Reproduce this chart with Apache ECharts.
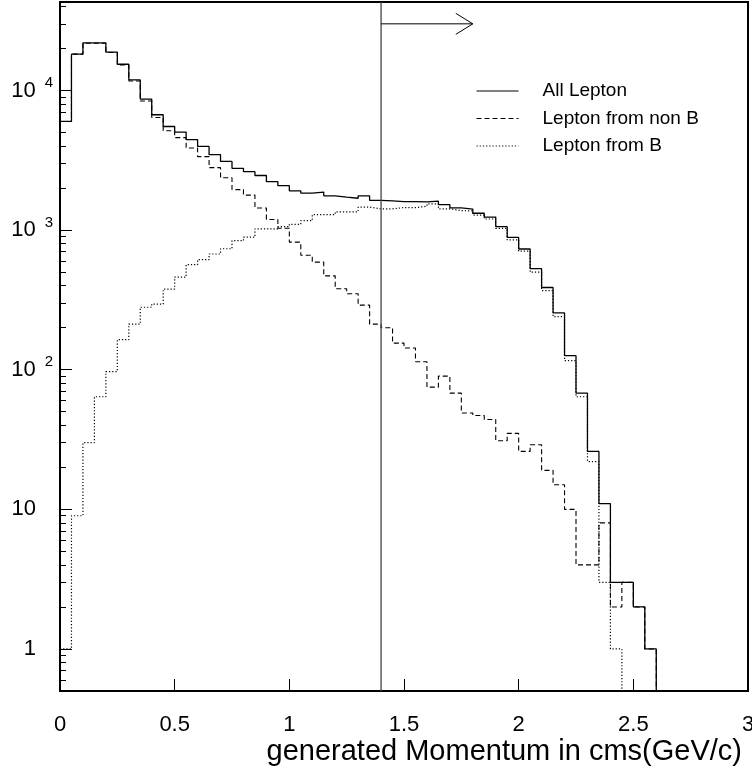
<!DOCTYPE html>
<html>
<head>
<meta charset="utf-8">
<script src="https://cdn.jsdelivr.net/npm/echarts@6/dist/echarts.min.js"></script>
<style>
html,body{margin:0;padding:0;background:#fff;}
#chart{width:752px;height:770px;}
</style>
</head>
<body>
<div id="chart"></div>
<script>
// ---- data ----
const binEdges = [0,0.05,0.1,0.15,0.2,0.25,0.3,0.35,0.4,0.45,0.5,0.55,0.6,0.65,0.7,0.75,0.8,0.85,0.9,0.95,
  1,1.05,1.1,1.15,1.2,1.25,1.3,1.35,1.4,1.45,1.5,1.55,1.6,1.65,1.7,1.75,1.8,1.85,1.9,1.95,
  2,2.05,2.1,2.15,2.2,2.25,2.3,2.35,2.4,2.45,2.5,2.55,2.6,2.65,2.7,2.75,2.8,2.85,2.9,2.95,3];

const allLepton = [6000,18200,21900,21900,18800,15400,11900,8680,6700,5520,
  5030,4440,3970,3470,3100,2770,2620,2460,2220,2080,
  1910,1840,1870,1760,1720,1690,1760,1630,1620,1600,
  1600,1590,1610,1520,1440,1415,1320,1240,1060,886,
  732,529,388,255,126,68,26,11,3,3,
  2,1,0,0,0,0,0,0,0,0];

const leptonNonB = [6000,18200,21800,21800,18700,15200,11700,8400,6400,5150,
  4590,3870,3360,2800,2370,1950,1780,1440,1190,1030,
  820,660,590,470,380,350,290,212,200,155,
  143,114,75,90,68,49,47,44,31,35,
  26,29,19,15,10,4,4,8,2,3,
  2,1,0,0,0,0,0,0,0,0];

const leptonB = [1,9,30,64,97,164,212,280,295,378,
  461,565,614,674,735,839,889,1020,1020,1060,
  1100,1170,1290,1290,1350,1350,1460,1420,1420,1450,
  1450,1480,1540,1420,1380,1370,1280,1200,1030,851,
  706,500,369,240,116,64,22,3,1,0,
  0,0,0,0,0,0,0,0,0,0];

const seriesNames = ['All Lepton', 'Lepton from non B', 'Lepton from B'];

const xTickValues = [0, 0.5, 1, 1.5, 2, 2.5, 3];
const xTickLabels = ['0', '0.5', '1', '1.5', '2', '2.5', '3'];

const yTickValues = [1, 10, 100, 1000, 10000];
const yTickBase = ['1', '10', '10', '10', '10'];
const yTickExp = ['', '', '2', '3', '4'];
const yMinorTicks = [0.6,0.7,0.8,0.9,
  2,3,4,5,6,7,8,9,
  20,30,40,50,60,70,80,90,
  200,300,400,500,600,700,800,900,
  2000,3000,4000,5000,6000,7000,8000,9000,
  20000,30000,40000];

const cutMomentum = 1.4;     // vertical cut line
const arrowEnd = 1.8;        // arrow head position
const arrowLevel = 30000;    // arrow height

const xTitle = 'generated Momentum in cms(GeV/c)';

// ---- chart ----
const X_MIN = 0, X_MAX = 3, Y_MIN = 0.5, Y_MAX = 43000;
const FONT = "'Liberation Sans', Arial, Helvetica, sans-serif";

function histData(values) {
  const d = [];
  for (let i = 0; i < values.length; i++) {
    d.push([binEdges[i], Math.max(values[i], Y_MIN)]);
  }
  d.push([binEdges[values.length], Math.max(values[values.length - 1], Y_MIN)]);
  return d;
}

function tickIndex(v) {
  for (let i = 0; i < yTickValues.length; i++) {
    if (Math.abs(Math.log10(v) - Math.log10(yTickValues[i])) < 1e-6) return i;
  }
  return -1;
}

const chart = echarts.init(document.getElementById('chart'), null, {renderer: 'canvas'});

const lineStyles = [
  {color: '#000', width: 1.3, type: 'solid'},
  {color: '#000', width: 1.1, type: [5, 3]},
  {color: '#000', width: 1.2, type: [1.2, 2]}
];
const values = [allLepton, leptonNonB, leptonB];

const series = values.map((v, i) => ({
  name: seriesNames[i],
  type: 'line',
  step: 'end',
  symbol: 'none',
  showSymbol: false,
  data: histData(v),
  lineStyle: lineStyles[i],
  itemStyle: {color: '#000'},
  clip: true,
  silent: true,
  z: 3 - i
}));

series.push({
  type: 'custom',
  silent: true,
  data: [[cutMomentum, arrowEnd, arrowLevel]],
  encode: {x: 0, y: 2},
  z: 5,
  renderItem: function (params, api) {
    const xc = api.value(0), xe = api.value(1), ya = api.value(2);
    const top = api.coord([xc, Y_MAX]);
    const bot = api.coord([xc, Y_MIN]);
    const a0 = api.coord([xc, ya]);
    const a1 = api.coord([xe, ya]);
    const st = {stroke: '#000', lineWidth: 1, fill: null};
    return {
      type: 'group',
      children: [
        {type: 'line', shape: {x1: top[0], y1: top[1], x2: bot[0], y2: bot[1]}, style: {stroke: '#444', lineWidth: 1.3, fill: null}},
        {type: 'line', shape: {x1: a0[0], y1: a0[1], x2: a1[0], y2: a1[1]}, style: st},
        {type: 'polyline', shape: {points: [[a1[0] - 17, a1[1] - 10.5], [a1[0], a1[1]], [a1[0] - 17, a1[1] + 10.5]]}, style: st}
      ]
    };
  }
});

const option = {
  animation: false,
  backgroundColor: '#fff',
  grid: {
    left: 60, top: 2, width: 688, height: 689,
    outerBoundsMode: 'none',
    containLabel: false,
    show: true, borderColor: '#000', borderWidth: 2, backgroundColor: 'transparent'
  },
  legend: {
    data: seriesNames,
    orient: 'vertical',
    left: 476,
    top: 81,
    padding: 0,
    itemWidth: 42,
    itemHeight: 20,
    itemGap: 7.5,
    selectedMode: false,
    itemStyle: {opacity: 0},
    lineStyle: {width: 1},
    textStyle: {fontSize: 19, lineHeight: 20, fontFamily: FONT, color: '#000', padding: [0, 0, 0, 19]}
  },
  xAxis: {
    type: 'value',
    min: X_MIN, max: X_MAX, interval: 0.5,
    name: xTitle,
    nameLocation: 'end',
    nameGap: -6,
    nameTextStyle: {fontSize: 29, fontFamily: FONT, color: '#000', align: 'right', verticalAlign: 'top', padding: [46, 0, 0, 0]},
    axisLine: {show: false},
    splitLine: {show: false},
    axisTick: {show: true, inside: true, length: 12, lineStyle: {color: '#000', width: 1}},
    axisLabel: {
      margin: 23, fontSize: 22, fontFamily: FONT, color: '#000',
      showMinLabel: true, showMaxLabel: true,
      formatter: function (v) {
        const i = xTickValues.findIndex(t => Math.abs(t - v) < 1e-9);
        return i >= 0 ? xTickLabels[i] : '';
      }
    }
  },
  yAxis: [{
    type: 'log',
    logBase: 10,
    min: Y_MIN, max: Y_MAX,
    position: 'left',
    axisLine: {show: false},
    splitLine: {show: false},
    axisTick: {show: true, inside: true, length: 12, customValues: yTickValues, lineStyle: {color: '#000', width: 1}},
    axisLabel: {
      customValues: yTickValues,
      margin: 7,
      fontSize: 22, fontFamily: FONT, color: '#000',
      formatter: function (v) {
        const i = tickIndex(v);
        if (i < 0) return '';
        return yTickExp[i] ? '{b|' + yTickBase[i] + '}{s|' + yTickExp[i] + '}' : '{b|' + yTickBase[i] + '}{p| }';
      },
      rich: {
        b: {fontSize: 22, lineHeight: 30, fontFamily: FONT, color: '#000'},
        s: {fontSize: 15, lineHeight: 15, verticalAlign: 'top', padding: [0, 0, 0, 9], fontFamily: FONT, color: '#000'},
        p: {fontSize: 15, width: 17}
      }
    }
  }, {
    type: 'log',
    logBase: 10,
    min: Y_MIN, max: Y_MAX,
    position: 'left',
    axisLine: {show: false},
    splitLine: {show: false},
    axisLabel: {show: false},
    axisTick: {show: true, inside: true, length: 6, customValues: yMinorTicks, lineStyle: {color: '#000', width: 1}}
  }],
  series: series
};

chart.setOption(option);
</script>
</body>
</html>
